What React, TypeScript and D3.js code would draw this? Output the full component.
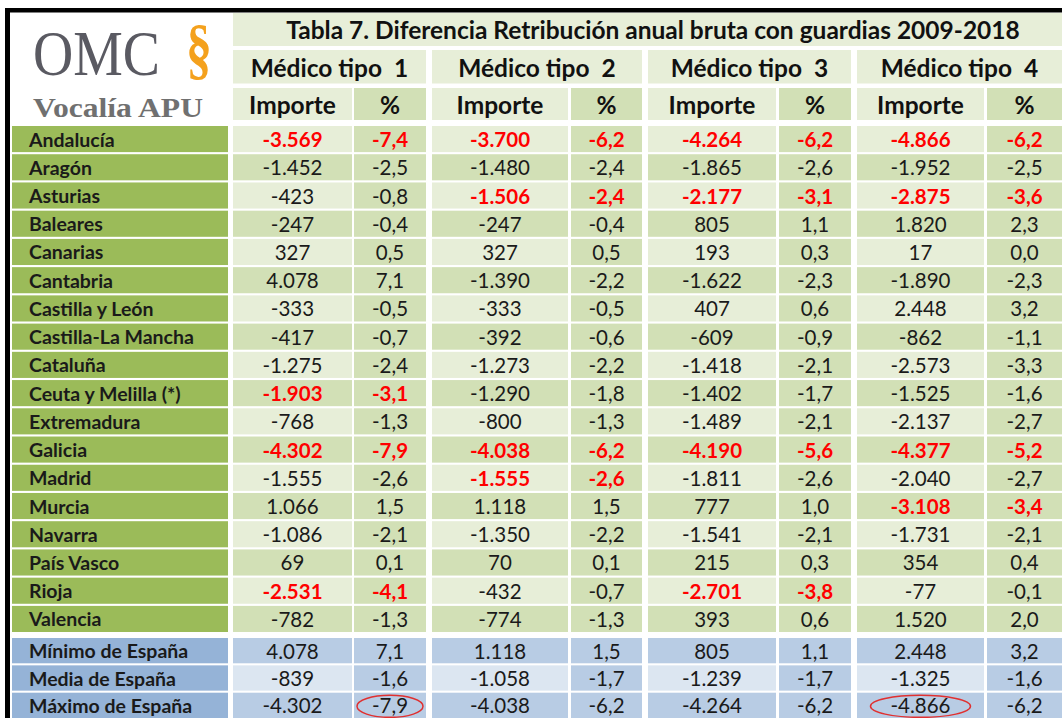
import React from "react";
import * as d3 from "d3";

const TITLE = "Tabla 7. Diferencia Retribución anual bruta con guardias 2009-2018";
const GROUPS = ["Médico tipo  1", "Médico tipo  2", "Médico tipo  3", "Médico tipo  4"];
const SUBHEADERS = ["Importe", "%"];

const REGIONS = [
  "Andalucía", "Aragón", "Asturias", "Baleares", "Canarias", "Cantabria",
  "Castilla y León", "Castilla-La Mancha", "Cataluña", "Ceuta y Melilla (*)",
  "Extremadura", "Galicia", "Madrid", "Murcia", "Navarra", "País Vasco", "Rioja", "Valencia",
];
const SUMMARY = ["Mínimo de España", "Media de España", "Máximo de España"];

// values: 18 regions followed by the 3 summary rows
const IMPORTE_T1 = [-3569, -1452, -423, -247, 327, 4078, -333, -417, -1275, -1903, -768, -4302, -1555, 1066, -1086, 69, -2531, -782, 4078, -839, -4302];
const PCT_T1 = [-7.4, -2.5, -0.8, -0.4, 0.5, 7.1, -0.5, -0.7, -2.4, -3.1, -1.3, -7.9, -2.6, 1.5, -2.1, 0.1, -4.1, -1.3, 7.1, -1.6, -7.9];
const IMPORTE_T2 = [-3700, -1480, -1506, -247, 327, -1390, -333, -392, -1273, -1290, -800, -4038, -1555, 1118, -1350, 70, -432, -774, 1118, -1058, -4038];
const PCT_T2 = [-6.2, -2.4, -2.4, -0.4, 0.5, -2.2, -0.5, -0.6, -2.2, -1.8, -1.3, -6.2, -2.6, 1.5, -2.2, 0.1, -0.7, -1.3, 1.5, -1.7, -6.2];
const IMPORTE_T3 = [-4264, -1865, -2177, 805, 193, -1622, 407, -609, -1418, -1402, -1489, -4190, -1811, 777, -1541, 215, -2701, 393, 805, -1239, -4264];
const PCT_T3 = [-6.2, -2.6, -3.1, 1.1, 0.3, -2.3, 0.6, -0.9, -2.1, -1.7, -2.1, -5.6, -2.6, 1.0, -2.1, 0.3, -3.8, 0.6, 1.1, -1.7, -6.2];
const IMPORTE_T4 = [-4866, -1952, -2875, 1820, 17, -1890, 2448, -862, -2573, -1525, -2137, -4377, -2040, -3108, -1731, 354, -77, 1520, 2448, -1325, -4866];
const PCT_T4 = [-6.2, -2.5, -3.6, 2.3, 0.0, -2.3, 3.2, -1.1, -3.3, -1.6, -2.7, -5.2, -2.7, -3.4, -2.1, 0.4, -0.1, 2.0, 3.2, -1.6, -6.2];

// highlighted (red bold) cells: [row, group index]
const HIGHLIGHTED: [string, number][] = [
  ["Andalucía", 0], ["Andalucía", 1], ["Andalucía", 2], ["Andalucía", 3],
  ["Asturias", 1], ["Asturias", 2], ["Asturias", 3],
  ["Ceuta y Melilla (*)", 0],
  ["Galicia", 0], ["Galicia", 1], ["Galicia", 2], ["Galicia", 3],
  ["Madrid", 1], ["Murcia", 3], ["Rioja", 0], ["Rioja", 2],
];
// circled cells: [row, group index, column index (0 importe, 1 %)]
const CIRCLED: [string, number, number][] = [
  ["Máximo de España", 0, 1],
  ["Máximo de España", 3, 0],
];

const esLocale = d3.formatLocale({ decimal: ",", thousands: ".", grouping: [3], currency: ["", " €"], minus: "-" });
const fmtImporte = esLocale.format(",d");
const fmtPct = esLocale.format(",.1f");

// ---- layout ----
const W = 1062;
const H = 718;
const FONT = "Lato, 'Open Sans', sans-serif";
const NAME_X0 = 12;
const NAME_X1 = 228;
const COLS: [number, number][][] = [
  [[233, 352], [354, 426]],
  [[432, 568], [571, 642]],
  [[648, 776], [779, 851]],
  [[857, 984], [987, 1062]],
];
const GREEN_NAME = "#9bbb59";
const GREEN_LIGHT = "#e7eed8";
const GREEN_MED = "#d2e0b6";
const BLUE_NAME = "#95b3d7";
const BLUE_LIGHT = "#dce6f1";
const BLUE_MED = "#b8cce4";

const yData = d3.scaleBand<string>().domain(REGIONS).range([126, 632]).paddingInner(0.075).paddingOuter(0);
const ySum = d3.scaleBand<string>().domain(SUMMARY).range([638, 718]).paddingInner(0.075).paddingOuter(0);

export default function App() {
  const values = [
    [IMPORTE_T1, PCT_T1],
    [IMPORTE_T2, PCT_T2],
    [IMPORTE_T3, PCT_T3],
    [IMPORTE_T4, PCT_T4],
  ];
  const isHi = (r: string, g: number) => HIGHLIGHTED.some(([rr, gg]) => rr === r && gg === g);

  const rowsAll = [
    ...REGIONS.map((r, i) => ({ name: r, idx: i, y: yData(r)!, h: yData.bandwidth(), summary: false, k: i })),
    ...SUMMARY.map((r, i) => ({ name: r, idx: REGIONS.length + i, y: ySum(r)!, h: ySum.bandwidth(), summary: true, k: i })),
  ];

  return (
    <svg width={W} height={H} style={{ position: "absolute", left: 0, top: 0, display: "block", background: "#fff" }} fontFamily={FONT}>
      <rect x={0} y={0} width={W} height={H} fill="#fff" />
      {/* frame */}
      <rect x={5} y={8} width={W} height={4.5} fill="#000" />
      <rect x={5} y={8} width={5} height={H} fill="#000" />

      {/* logo */}
      <text x={33} y={75} fontFamily="'Liberation Serif', 'DejaVu Serif', serif" fontSize={63} fill="#5a5a62" textLength={127} lengthAdjust="spacingAndGlyphs">OMC</text>
      <text x={199} y={72} fontFamily="'Liberation Serif', serif" fontSize={52} fill="#f4a11d" textAnchor="middle" transform="translate(199,72) scale(1,1.3) translate(-199,-72)" fontWeight="bold">§</text>
      <text x={33} y={117} fontFamily="'Liberation Serif', 'DejaVu Serif', serif" fontSize={28} fontWeight="bold" fill="#707070" textLength={170} lengthAdjust="spacingAndGlyphs">Vocalía APU</text>

      {/* title */}
      <rect x={233} y={13} width={W - 233} height={33} fill={GREEN_LIGHT} />
      <text x={653} y={29.5} textAnchor="middle" dominantBaseline="central" fontSize={24.5} fontWeight="bold" fill="#111">{TITLE}</text>

      {/* group headers */}
      {GROUPS.map((g, gi) => {
        const x0 = COLS[gi][0][0];
        const x1 = COLS[gi][1][1];
        return (
          <g key={g}>
            <rect x={x0} y={50} width={x1 - x0} height={33.5} fill={GREEN_LIGHT} />
            <text x={(x0 + x1) / 2} y={67} textAnchor="middle" dominantBaseline="central" fontSize={24.5} fontWeight="bold" fill="#111" style={{ whiteSpace: "pre" }}>{g}</text>
            {SUBHEADERS.map((s, si) => {
              const [c0, c1] = COLS[gi][si];
              return (
                <g key={s}>
                  <rect x={c0} y={88} width={c1 - c0} height={32} fill={si === 0 ? GREEN_LIGHT : GREEN_MED} />
                  <text x={(c0 + c1) / 2} y={104.5} textAnchor="middle" dominantBaseline="central" fontSize={24.5} fontWeight="bold" fill="#111">{s}</text>
                </g>
              );
            })}
          </g>
        );
      })}

      {/* rows */}
      {rowsAll.map((row) => {
        const cy = row.y + row.h / 2;
        const nameFill = row.summary ? BLUE_NAME : GREEN_NAME;
        return (
          <g key={row.name}>
            <rect x={NAME_X0} y={row.y} width={NAME_X1 - NAME_X0} height={row.h} fill={nameFill} />
            <text x={29} y={cy} dominantBaseline="central" fontSize={19.5} fontWeight="bold" fill="#1a1a1a">{row.name}</text>
            {values.map((pair, gi) =>
              pair.map((arr, ci) => {
                const [c0, c1] = COLS[gi][ci];
                let fill: string;
                if (row.summary) {
                  fill = ci === 0 && row.k === 1 ? BLUE_LIGHT : BLUE_MED;
                } else {
                  fill = ci === 0 && row.k % 2 === 0 ? GREEN_LIGHT : GREEN_MED;
                }
                const hi = !row.summary && isHi(row.name, gi);
                const v = arr[row.idx];
                const label = ci === 0 ? fmtImporte(v) : fmtPct(v);
                const circled = CIRCLED.some(([r, g, c]) => r === row.name && g === gi && c === ci);
                const cx = (c0 + c1) / 2;
                return (
                  <g key={`${gi}-${ci}`}>
                    <rect x={c0} y={row.y} width={c1 - c0} height={row.h} fill={fill} />
                    <text x={cx} y={cy} textAnchor="middle" dominantBaseline="central" fontSize={20.5} fontWeight={hi ? "bold" : "normal"} fill={hi ? "#ff0000" : "#1a1a1a"}>{label}</text>
                    {circled && (
                      <ellipse cx={cx} cy={cy + 1} rx={ci === 0 ? 50 : 33} ry={11} fill="none" stroke="#e03030" strokeWidth={1.5} />
                    )}
                  </g>
                );
              })
            )}
          </g>
        );
      })}
    </svg>
  );
}
